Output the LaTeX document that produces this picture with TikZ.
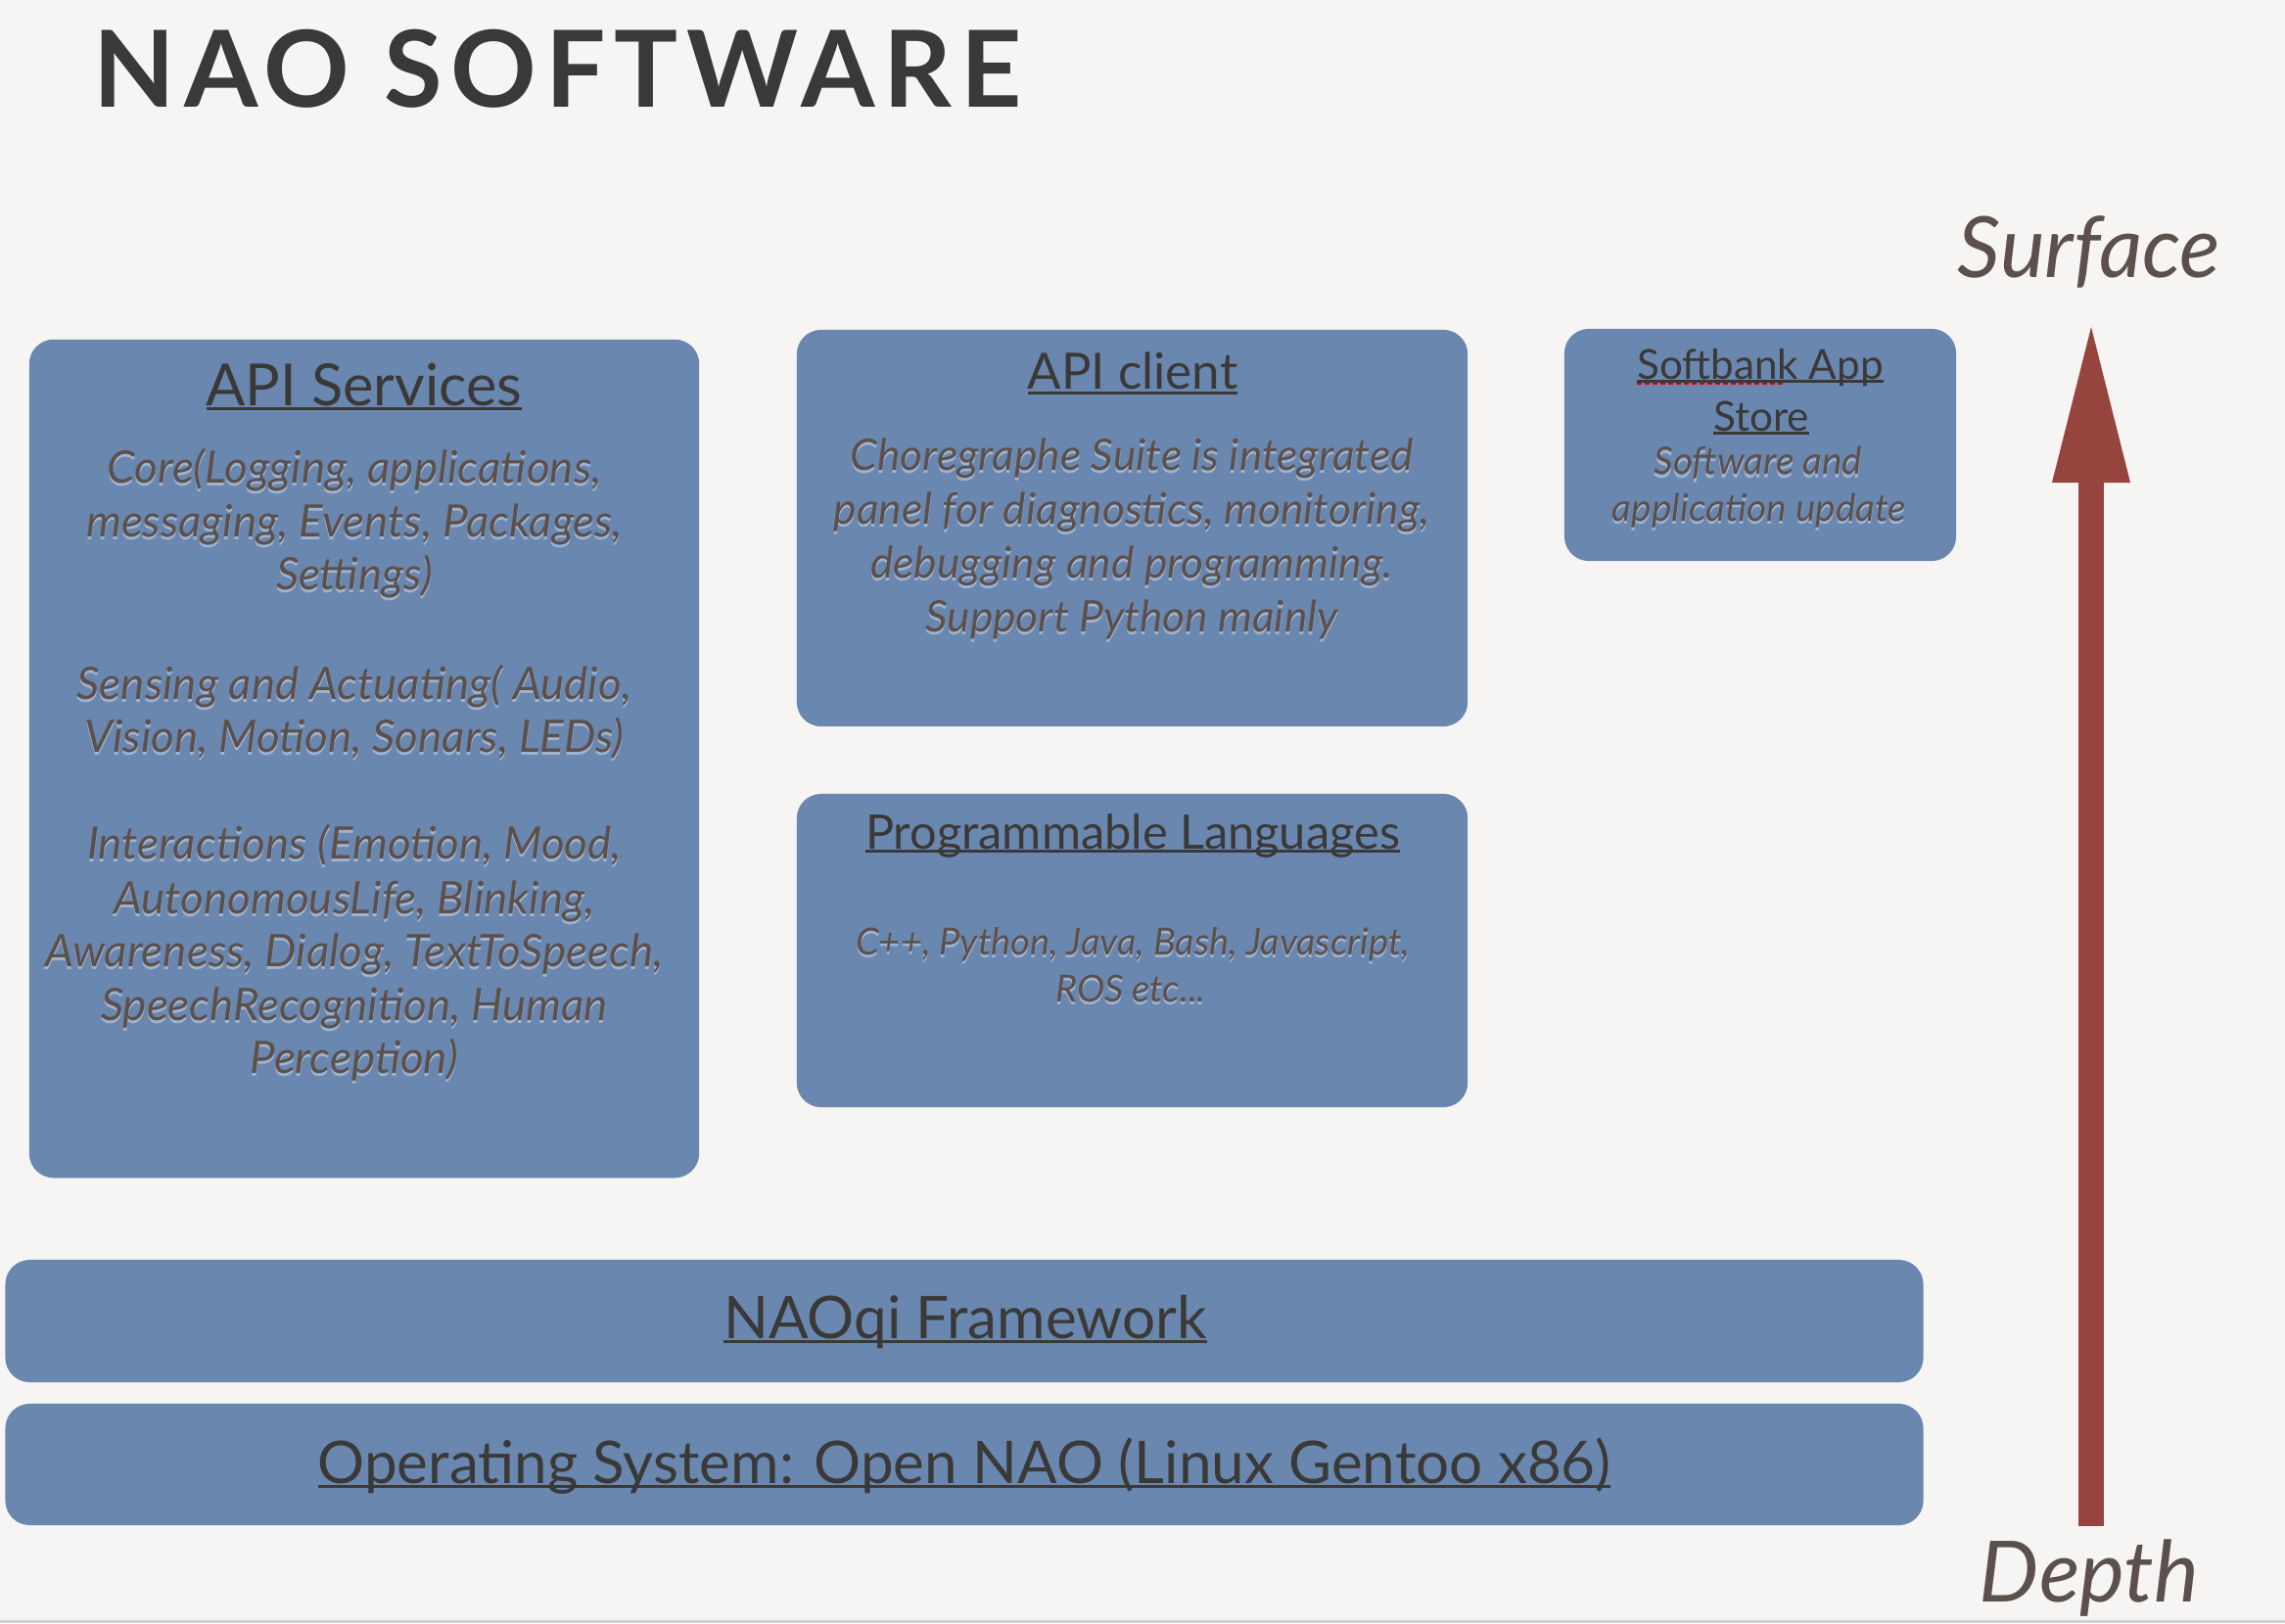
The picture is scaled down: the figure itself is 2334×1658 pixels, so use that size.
\documentclass[tikz,border=0pt]{standalone}
\usepackage{graphicx}
\usepackage{fontspec}
\setmainfont{Lato}
\newfontfamily\titlefont{Lato}[LetterSpace=8]
\usetikzlibrary{calc}
\definecolor{bgc}{HTML}{F6F5F3}
\definecolor{boxc}{HTML}{6A87B0}
\definecolor{headc}{HTML}{3A3937}
\definecolor{bodyc}{HTML}{5C504C}
\definecolor{glowc}{HTML}{9FB3CF}
\definecolor{arrowc}{HTML}{96453E}
\newcommand\ulx[1]{\setbox0=\hbox{#1}\rlap{\rule[-0.09em]{\wd0}{0.06em}}\box0}
\newcommand\glow[1]{\rlap{\raisebox{-0.03cm}{\textcolor{glowc}{#1}}}#1}
\tikzset{
  box/.style={fill=boxc, rounded corners=0.25cm, inner sep=0pt, draw=none},
  head/.style={anchor=base, inner sep=0pt, text=headc},
  body/.style={anchor=base, inner sep=0pt, text=bodyc},
  asbody/.style={body, font=\itshape\fontsize{13}{15}\selectfont},
  acbody/.style={body, font=\itshape\fontsize{12.6}{15}\selectfont},
  plbody/.style={body, font=\itshape\fontsize{10.8}{13}\selectfont},
  sbbody/.style={body, font=\itshape\fontsize{11}{13}\selectfont},
  bighead/.style={head, font=\fontsize{17.1}{20}\selectfont},
  depthlabel/.style={anchor=base, inner sep=0pt, text=bodyc, font=\itshape\fontsize{24.6}{28}\selectfont},
}
\begin{document}
\begin{tikzpicture}[x=0.01cm, y=-0.01cm]
\fill[bgc] (0,0) rectangle (2334,1658);
\useasboundingbox (0,0) rectangle (2334,1658);
\draw[black!18, line width=0.03cm] (0,1656) -- (2334,1656);

% title
\node[anchor=base west, inner sep=0pt, text=headc] (title) at (95,110)
  {\resizebox{9.47cm}{!}{\titlefont\bfseries NAO SOFTWARE}};

% boxes
\node[box, minimum width=6.84cm, minimum height=8.56cm] (apis) at (372,775) {};
\node[box, minimum width=6.85cm, minimum height=4.05cm] (apic) at (1156.5,539.5) {};
\node[box, minimum width=6.85cm, minimum height=3.20cm] (plang) at (1156.5,971) {};
\node[box, minimum width=4.00cm, minimum height=2.37cm] (store) at (1798,454.5) {};
\node[box, minimum width=19.58cm, minimum height=1.25cm] (naoqi) at (985,1349.5) {};
\node[box, minimum width=19.58cm, minimum height=1.24cm] (os) at (985,1496) {};

% API Services
\node[head, font=\fontsize{16.9}{20}\selectfont] (ash) at (372,414) {\ulx{API Services}};
\node[asbody] (as1) at (362,493) {\glow{Core(Logging, applications,}};
\node[asbody] (as2) at (362,548) {\glow{messaging, Events, Packages,}};
\node[asbody] (as3) at (362,602) {\glow{Settings)}};
\node[asbody] (as4) at (362,714) {\glow{Sensing and Actuating( Audio,}};
\node[asbody] (as5) at (362,768) {\glow{Vision, Motion, Sonars, LEDs)}};
\node[asbody] (as6) at (362,877) {\glow{Interactions (Emotion, Mood,}};
\node[asbody] (as7) at (362,933) {\glow{AutonomousLife, Blinking,}};
\node[asbody] (as8) at (362,987) {\glow{Awareness, Dialog, TextToSpeech,}};
\node[asbody] (as9) at (362,1042) {\glow{SpeechRecognition, Human}};
\node[asbody] (as10) at (362,1096) {\glow{Perception)}};

% API client
\node[head, font=\fontsize{14.5}{17}\selectfont] (ach) at (1157,398) {\ulx{API client}};
\node[acbody] (ac1) at (1156,480) {\glow{Choregraphe Suite is integrated}};
\node[acbody] (ac2) at (1156,535) {\glow{panel for diagnostics, monitoring,}};
\node[acbody] (ac3) at (1156,590) {\glow{debugging and programming.}};
\node[acbody] (ac4) at (1156,645) {\glow{Support Python mainly}};

% Programmable Languages
\node[head, font=\fontsize{13.85}{16}\selectfont] (plh) at (1157,867) {\ulx{Programmable Languages}};
\node[plbody] (pl1) at (1157,975) {\glow{C++, Python, Java, Bash, Javascript,}};
\node[plbody] (pl2) at (1155,1023) {\glow{ROS etc...}};

% Softbank App Store
\node[head, font=\fontsize{12}{15}\selectfont] (sb1) at (1798,387) {\ulx{Softbank App}};
\node[head, font=\fontsize{12}{15}\selectfont] (sb2) at (1799,440) {\ulx{Store}};
\node[sbbody] (sb3) at (1796,485) {\glow{Software and}};
\node[sbbody] (sb4) at (1797,532) {\glow{application update}};
\draw[red!85!black, dash pattern=on 0.05cm off 0.03cm, line width=0.02cm]
  ($(sb1.base west)+(0,5)$) -- ($(sb1.base west)+(152,5)$);

% bars
\node[bighead] (naoqit) at (986,1367) {\ulx{NAOqi Framework}};
\node[bighead] (ost) at (985,1515) {\ulx{Operating System: Open NAO (Linux Gentoo x86)}};

% depth arrow
\node[depthlabel] (surf) at (2134,284) {Surface};
\node[depthlabel] (depth) at (2134,1636) {Depth};
\coordinate (atop) at ($(surf.base)+(2,50)$);
\coordinate (abot) at ($(depth.base)+(2,-77)$);
\draw[arrowc, line width=0.26cm] (abot) -- ($(atop)+(0,155)$);
\fill[arrowc] ($(atop)+(-40,159)$) -- (atop) -- ($(atop)+(40,159)$) -- cycle;
\end{tikzpicture}
\end{document}
